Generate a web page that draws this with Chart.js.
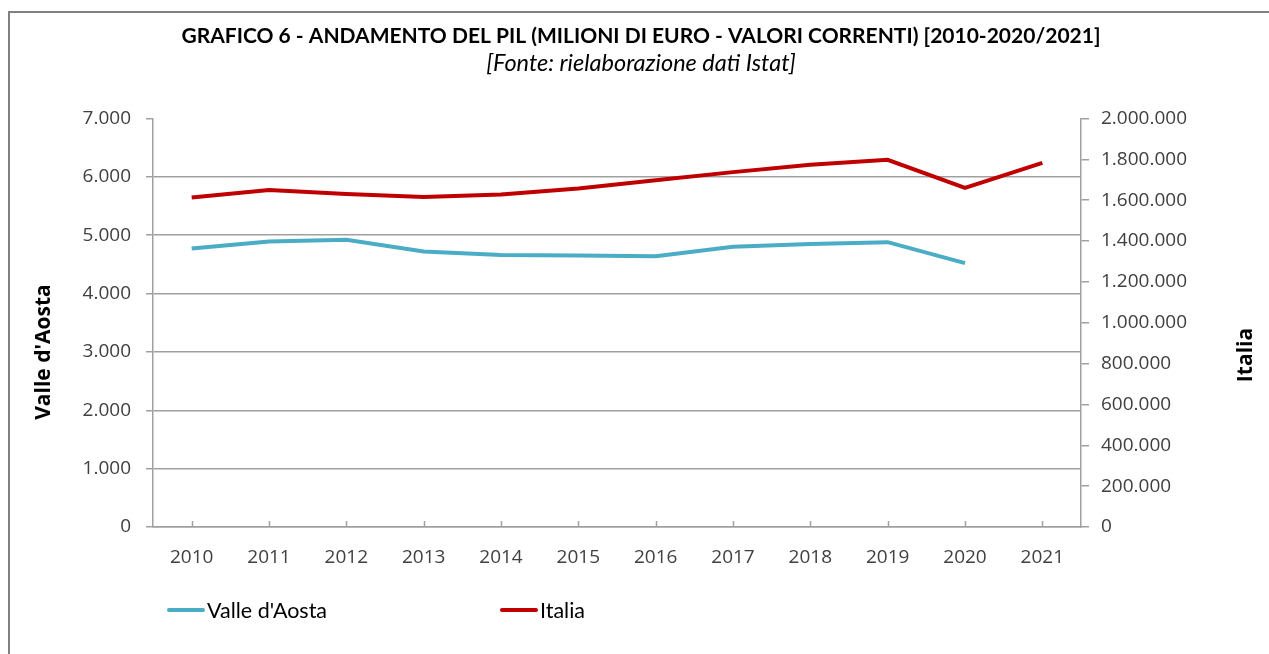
<!DOCTYPE html>
<html lang="it">
<head>
    <meta charset="UTF-8">
    <title>Grafico 6 - Andamento del PIL</title>
    <script src="https://cdn.jsdelivr.net/npm/chart.js"></script>
    <style>
        body { margin: 0; background: #fff; }
        .wrap { position: relative; width: 1269px; height: 654px; overflow: hidden; }
        .frame { position: absolute; left: 8px; top: 11px; width: 1300px; height: 700px; border: 2px solid #808080; pointer-events: none; }
        #legend { position: absolute; left: 167px; top: 594px; font-family: Lato, sans-serif; font-size: 21.5px; line-height: 26px; color: #000; white-space: nowrap; }
        .legend-item { display: inline-block; width: 333px; }
        .legend-line { display: inline-block; width: 38px; height: 4px; vertical-align: middle; margin-right: 2px; border-radius: 2px; }
        .legend-item span { vertical-align: middle; }
    </style>
</head>
<body>
<div class="wrap">
    <canvas id="pilChart" width="1269" height="654"></canvas>
    <div class="frame"></div>
    <div id="legend"></div>
</div>

<script>
    // dati (milioni di euro, valori correnti)
    const anni = ['2010', '2011', '2012', '2013', '2014', '2015', '2016', '2017', '2018', '2019', '2020', '2021'];
    const valleAosta = [4770, 4890, 4920, 4720, 4660, 4650, 4640, 4800, 4850, 4880, 4520, null];
    const italia = [1613000, 1650000, 1630000, 1615000, 1627000, 1657000, 1697000, 1737000, 1773000, 1797000, 1660000, 1782000];

    const titolo = 'GRAFICO 6 - ANDAMENTO DEL PIL (MILIONI DI EURO - VALORI CORRENTI) [2010-2020/2021]';
    const sottotitolo = '[Fonte: rielaborazione dati Istat]';
    const titoloSinistra = "Valle d'Aosta";
    const titoloDestra = 'Italia';

    const grigio = '#a0a0a0';
    const tickFont = { family: '"Open Sans", sans-serif', size: 19 };

    // separatore delle migliaia con il punto
    function formatta(v) {
        return String(v).replace(/\B(?=(\d{3})+(?!\d))/g, '.');
    }

    // titoli degli assi (ruotati) e tacche interne sull'asse x
    const extraPlugin = {
        id: 'extra',
        beforeDatasetsDraw(chart) {
            const { ctx, chartArea, scales } = chart;
            ctx.save();
            ctx.strokeStyle = grigio;
            ctx.lineWidth = 1.5;
            scales.x.ticks.forEach((t, i) => {
                const x = Math.round(scales.x.getPixelForTick(i)) + 0.5;
                ctx.beginPath();
                ctx.moveTo(x, chartArea.bottom);
                ctx.lineTo(x, chartArea.bottom - 6);
                ctx.stroke();
            });
            ctx.restore();
        },
        afterDraw(chart) {
            const { ctx, chartArea } = chart;
            ctx.save();
            ctx.font = 'bold 21px "Open Sans", sans-serif';
            ctx.fillStyle = '#000';
            ctx.textAlign = 'center';
            ctx.textBaseline = 'middle';
            ctx.translate(chartArea.left - 109, chartArea.bottom - 175);
            ctx.rotate(-Math.PI / 2);
            ctx.fillText(titoloSinistra, 0, 0);
            ctx.restore();

            ctx.save();
            ctx.font = 'bold 21px "Open Sans", sans-serif';
            ctx.fillStyle = '#000';
            ctx.textAlign = 'center';
            ctx.textBaseline = 'middle';
            ctx.translate(chartArea.right + 165, chartArea.bottom - 172);
            ctx.rotate(-Math.PI / 2);
            ctx.fillText(titoloDestra, 0, 0);
            ctx.restore();
        }
    };

    const ctx = document.getElementById('pilChart').getContext('2d');
    const chart = new Chart(ctx, {
        type: 'line',
        data: {
            labels: anni,
            datasets: [{
                label: "Valle d'Aosta",
                data: valleAosta,
                borderColor: '#4bacc6',
                backgroundColor: '#4bacc6',
                borderWidth: 4,
                pointRadius: 0,
                tension: 0,
                yAxisID: 'y'
            }, {
                label: 'Italia',
                data: italia,
                borderColor: '#c00000',
                backgroundColor: '#c00000',
                borderWidth: 4,
                pointRadius: 0,
                tension: 0,
                yAxisID: 'y1'
            }]
        },
        options: {
            responsive: false,
            animation: false,
            layout: { padding: { left: 13, right: 0, top: 0, bottom: 0 } },
            plugins: {
                legend: { display: false },
                tooltip: { enabled: false },
                title: {
                    display: true,
                    text: titolo,
                    color: '#000',
                    font: { family: 'Lato, sans-serif', size: 21, weight: 'bold' },
                    padding: { top: 24, bottom: 0 }
                },
                subtitle: {
                    display: true,
                    text: sottotitolo,
                    color: '#000',
                    font: { family: 'Lato, sans-serif', size: 23.5, style: 'italic' },
                    padding: { top: 0, bottom: 41 }
                }
            },
            scales: {
                x: {
                    offset: true,
                    grid: { display: false, drawTicks: false },
                    border: { display: true, color: grigio, width: 1.5 },
                    ticks: { color: '#404040', font: tickFont, padding: 19, maxRotation: 0 },
                    afterFit: (scale) => { scale.height = 127; }
                },
                y: {
                    position: 'left',
                    min: 0,
                    max: 7000,
                    grid: {
                        color: (c) => (c.tick && c.tick.value === c.scale.max) ? 'rgba(0,0,0,0)' : grigio,
                        tickColor: grigio,
                        lineWidth: 1.5,
                        tickLength: 7
                    },
                    border: { display: true, color: grigio, width: 1.5 },
                    ticks: { stepSize: 1000, color: '#404040', font: tickFont, padding: 15, callback: formatta },
                    afterFit: (scale) => { scale.width = 140; }
                },
                y1: {
                    position: 'right',
                    min: 0,
                    max: 2000000,
                    grid: { drawOnChartArea: false, color: grigio, tickColor: grigio, lineWidth: 1.5, tickLength: 8 },
                    border: { display: true, color: grigio, width: 1.5 },
                    ticks: { stepSize: 200000, color: '#404040', font: tickFont, padding: 12, callback: formatta },
                    afterFit: (scale) => { scale.width = 188; }
                }
            }
        },
        plugins: [extraPlugin]
    });

    // legenda HTML costruita dai dataset
    const legend = document.getElementById('legend');
    chart.data.datasets.forEach(ds => {
        const item = document.createElement('div');
        item.className = 'legend-item';
        const line = document.createElement('i');
        line.className = 'legend-line';
        line.style.background = ds.borderColor;
        const txt = document.createElement('span');
        txt.textContent = ds.label;
        item.appendChild(line);
        item.appendChild(txt);
        legend.appendChild(item);
    });
</script>
</body>
</html>
